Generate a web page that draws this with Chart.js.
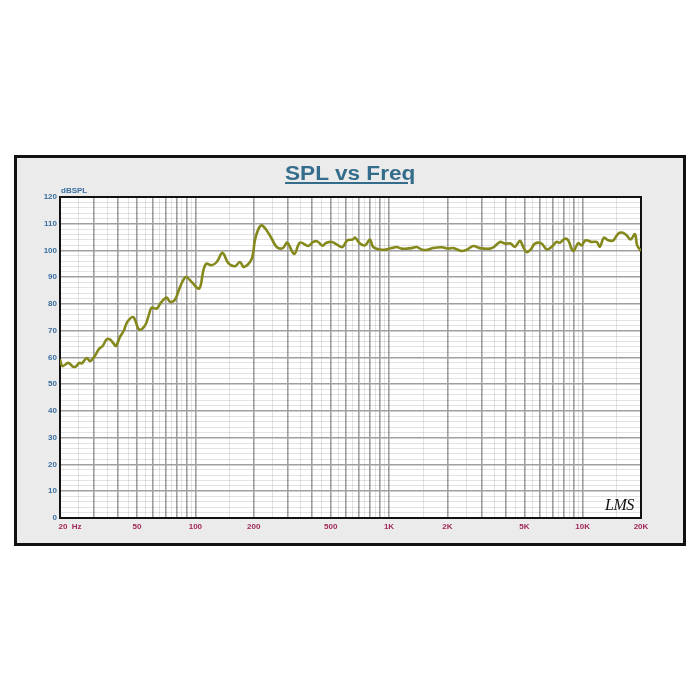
<!DOCTYPE html>
<html><head><meta charset="utf-8">
<script src="https://cdn.jsdelivr.net/npm/chart.js@4.4.1/dist/chart.umd.min.js"></script>
<style>
html,body{margin:0;padding:0;background:#fff;width:700px;height:700px;overflow:hidden;}
#frame{position:absolute;left:14px;top:155px;width:672px;height:391px;box-sizing:border-box;border:3px solid #111;background:#ebebeb;}
#wrap{position:absolute;left:0;top:0;width:666px;height:385px;}
#title{position:absolute;left:0;width:666px;top:4px;text-align:center;font:bold 19.5px "Liberation Sans",Arial,sans-serif;line-height:22px;color:#336d8b;}
#title span{display:inline-block;transform:scaleX(1.16);text-decoration:underline;text-decoration-thickness:2px;text-underline-offset:2px;}
#unit{position:absolute;left:44px;top:28px;font:bold 8px "Liberation Sans",Arial,sans-serif;color:#3a6ea0;}
#lms{position:absolute;left:588px;top:338px;font:italic 16px "Liberation Serif",serif;color:#111;letter-spacing:-0.5px;}
</style></head>
<body>
<div id="frame">
  <div id="wrap"><canvas id="c"></canvas></div>
  <div id="title"><span>SPL vs Freq</span></div>
  <div id="unit">dBSPL</div>
  <div id="lms">LMS</div>
</div>
<script>
// ---- data ----
const freqHz = [20, 20.6, 22.1, 23.4, 24.2, 25.2, 25.9, 27.5, 28.6, 30.1,
  31.9, 33.2, 34.8, 36.2, 37.7, 38.9, 40.8, 42.8, 44.5, 47.8,
  51.3, 55.0, 57.8, 59.4, 63.1, 66.2, 71.1, 74.0, 78.5, 83.4,
  89.3, 95.7, 104.7, 110, 114, 121, 129, 138, 148, 160,
  170, 178, 195, 203, 211, 220, 233, 248, 263, 283,
  298, 324, 347, 383, 406, 426, 454, 472, 506, 536,
  575, 608, 649, 668, 708, 752, 796, 828, 897, 953,
  1030, 1094, 1162, 1233, 1309, 1390, 1472, 1563, 1691, 1871,
  2023, 2143, 2371, 2518, 2723, 2944, 3320, 3483, 3741, 3963,
  4246, 4467, 4742, 4932, 5129, 5383, 5662, 6138, 6516, 6902,
  7328, 7621, 8091, 8414, 8933, 9484, 9863, 10352, 11117, 11803,
  12276, 12853, 13550, 14390, 15242, 15996, 16866, 17662, 18621, 19099,
  20000];
const splDb = [59.3, 56.8, 58.0, 56.5, 56.7, 58.0, 57.8, 59.8, 58.6, 60.4,
  63.3, 64.3, 66.7, 66.8, 65.4, 64.3, 67.7, 70.2, 73.3, 75.1,
  70.4, 72.0, 76.4, 78.6, 78.3, 80.4, 82.4, 80.8, 81.6, 86.4,
  90.1, 88.2, 85.8, 92.6, 95.1, 94.5, 95.7, 99.1, 95.3, 94.1,
  95.7, 93.8, 96.7, 103.8, 107.8, 109.4, 107.6, 104.4, 101.3, 100.9,
  102.9, 98.7, 102.9, 101.7, 103.2, 103.4, 101.8, 102.8, 103.2, 102.3,
  101.3, 103.8, 104.1, 104.8, 102.6, 101.9, 104.1, 101.3, 100.4, 100.3,
  100.9, 101.3, 100.7, 100.7, 100.9, 101.3, 100.4, 100.2, 100.9, 101.2,
  100.7, 100.9, 99.8, 100.3, 101.7, 100.9, 100.7, 101.3, 103.2, 102.6,
  102.6, 101.4, 103.6, 101.3, 99.4, 100.3, 102.6, 102.6, 100.4, 101.3,
  103.2, 102.9, 104.4, 103.8, 99.8, 102.8, 101.9, 103.8, 103.2, 103.2,
  101.4, 104.8, 103.8, 103.8, 106.3, 106.7, 105.7, 104.1, 106.1, 101.9,
  99.8];
const xTickLabels = {20: '         20  Hz', 50: '50', 100: '100', 200: '200', 500: '500',
  1000: '1K', 2000: '2K', 5000: '5K', 10000: '10K', 20000: '20K'};
const yRange = [0, 120];
const yMajorStep = 10;
const yMinorStep = 2;

// ---- helpers ----
function isMajorFreq(v) {
  const m = v / Math.pow(10, Math.floor(Math.log10(v) + 1e-9));
  return Math.abs(m - Math.round(m)) < 1e-6;
}
const xTickValues = [];
[10, 100, 1000, 10000].forEach(d => {
  for (let n = 1; n <= 9.5; n += 0.5) {
    const v = Math.round(n * d * 10) / 10;
    if (v >= 20 && v <= 20000) xTickValues.push(v);
  }
});
const yTickValues = [];
for (let v = yRange[0]; v <= yRange[1]; v += yMinorStep) yTickValues.push(v);

const MAJOR = '#a0a0a0', MINOR = 'rgba(0,0,0,0.11)';

const plotFrame = {
  id: 'plotFrame',
  beforeDraw(chart) {
    const a = chart.chartArea, ctx = chart.ctx;
    ctx.save(); ctx.fillStyle = '#ffffff';
    ctx.fillRect(a.left, a.top, a.right - a.left, a.bottom - a.top);
    ctx.restore();
  },
  beforeDatasetsDraw(chart) {
    const a = chart.chartArea, ctx = chart.ctx;
    ctx.save(); ctx.strokeStyle = '#111'; ctx.lineWidth = 2;
    ctx.strokeRect(a.left, a.top, a.right - a.left, a.bottom - a.top);
    ctx.restore();
  }
};

Chart.defaults.font.family = '"Liberation Sans", Arial, sans-serif';

new Chart(document.getElementById('c'), {
  type: 'line',
  data: {
    datasets: [{
      data: freqHz.map((f, i) => ({x: f, y: splDb[i]})),
      borderColor: '#85881b',
      borderWidth: 2.6,
      pointRadius: 0,
      tension: 0.35,
      fill: false
    }]
  },
  options: {
    responsive: true,
    maintainAspectRatio: false,
    animation: false,
    layout: {padding: {left: 0, top: 39, right: 42, bottom: 0}},
    plugins: {legend: {display: false}, tooltip: {enabled: false}},
    scales: {
      x: {
        type: 'logarithmic', min: 20, max: 20000,
        afterBuildTicks: s => { s.ticks = xTickValues.map(v => ({value: v})); },
        afterFit: s => { s.height = 25; },
        border: {display: false},
        grid: {
          drawTicks: false,
          color: c => (c.tick && isMajorFreq(c.tick.value)) ? MAJOR : MINOR,
          lineWidth: c => (c.tick && isMajorFreq(c.tick.value)) ? 1.6 : 1
        },
        ticks: {
          autoSkip: false, maxRotation: 0, minRotation: 0, padding: 4,
          color: '#a2285a', font: {size: 8, weight: 'bold'},
          callback: v => xTickLabels[v] !== undefined ? xTickLabels[v] : ''
        }
      },
      y: {
        min: yRange[0], max: yRange[1],
        afterBuildTicks: s => { s.ticks = yTickValues.map(v => ({value: v})); },
        afterFit: s => { s.width = 43; },
        border: {display: false},
        grid: {
          drawTicks: false,
          color: c => (c.tick && c.tick.value % yMajorStep === 0) ? MAJOR : MINOR,
          lineWidth: c => (c.tick && c.tick.value % yMajorStep === 0) ? 1.6 : 1
        },
        ticks: {
          autoSkip: false, padding: 3,
          color: '#3a6ea0', font: {size: 8, weight: 'bold'},
          callback: v => v % yMajorStep === 0 ? String(v) : ''
        }
      }
    }
  },
  plugins: [plotFrame]
});
</script>
</body></html>
